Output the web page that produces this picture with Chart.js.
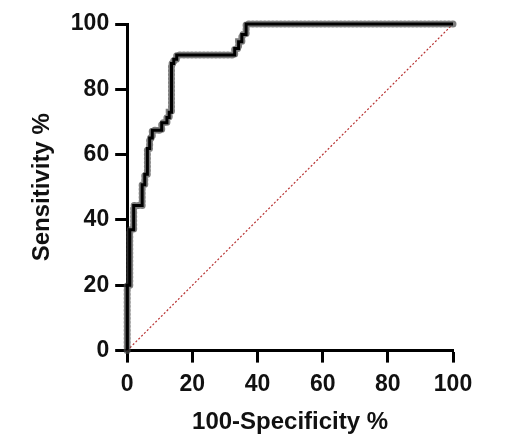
<!DOCTYPE html>
<html>
<head>
<meta charset="utf-8">
<script src="https://cdn.jsdelivr.net/npm/chart.js@4"></script>
<style>
  html, body { margin: 0; padding: 0; background: #fff; }
  #graphDiv { width: 521px; height: 445px; }
</style>
</head>
<body>
<div id="graphDiv"><canvas id="rocChart" width="521" height="445"></canvas></div>
<script>
// ROC curve corner points
const specValues = [0, 0, 0.8, 0.8, 2.0, 2.0, 4.6, 4.6, 5.4, 5.4, 6.2, 6.2, 6.9, 6.9, 7.7, 7.7,
  10.6, 10.6, 12.2, 12.2, 12.9, 12.9, 13.6, 13.6, 14.3, 14.3, 15.2, 15.2, 33, 33, 34.2, 34.2, 35.2, 35.2, 36.5, 36.5, 100];
const sensValues = [0, 20, 20, 37, 37, 44.4, 44.4, 50.8, 50.8, 54, 54, 61.9, 61.9, 65.1, 65.1, 67.5,
  67.5, 69.8, 69.8, 71.4, 71.4, 73, 73, 87.9, 87.9, 89.2, 89.2, 90.5, 90.5, 92.5, 92.5, 94.6, 94.6, 96.8, 96.8, 100, 100];
// reference line
const refX = [0, 100];
const refY = [0, 100];
const tickValues = [0, 20, 40, 60, 80, 100];

const rocPoints = specValues.map((x, i) => ({ x: x, y: sensValues[i] }));
const refPoints = refX.map((x, i) => ({ x: x, y: refY[i] }));

const fontFamily = '"Liberation Sans", Arial, sans-serif';

function axisOptions(title, tickPad) {
  return {
    type: 'linear',
    min: 0,
    max: 100,
    afterBuildTicks: axis => { axis.ticks = tickValues.map(v => ({ value: v })); },
    grid: {
      drawOnChartArea: false,
      drawTicks: true,
      tickLength: 12,
      tickWidth: 3,
      tickColor: '#000'
    },
    border: { display: true, width: 3, color: '#000' },
    ticks: {
      color: '#111',
      padding: tickPad,
      font: { family: fontFamily, size: 23, weight: 'bold' }
    },
    title: {
      display: true,
      text: title,
      color: '#111',
      padding: { top: 2, bottom: 8 },
      font: { family: fontFamily, size: 24, weight: 'bold' }
    }
  };
}

const ctx = document.getElementById('rocChart').getContext('2d');
new Chart(ctx, {
  type: 'scatter',
  data: {
    datasets: [
      {
        // diagonal chance line
        data: refPoints,
        showLine: true,
        borderColor: '#b83232',
        borderWidth: 1.2,
        borderDash: [2, 2],
        pointRadius: 0,
        clip: false,
        order: 3
      },
      {
        // grey point halo
        data: rocPoints,
        showLine: true,
        borderColor: 'rgba(70,70,70,0.7)',
        borderWidth: 7,
        borderDash: [0.5, 3.5],
        borderCapStyle: 'round',
        pointRadius: 0,
        clip: false,
        order: 2
      },
      {
        data: rocPoints,
        showLine: true,
        borderColor: '#000',
        borderWidth: 3,
        pointRadius: 0,
        clip: false,
        order: 1
      }
    ]
  },
  options: {
    responsive: false,
    animation: false,
    layout: { padding: { left: 26, top: 24, right: 68, bottom: 0 } },
    plugins: {
      legend: { display: false },
      tooltip: { enabled: false }
    },
    scales: {
      x: axisOptions('100-Specificity %', 8),
      y: axisOptions('Sensitivity %', 6)
    }
  }
});
</script>
</body>
</html>
